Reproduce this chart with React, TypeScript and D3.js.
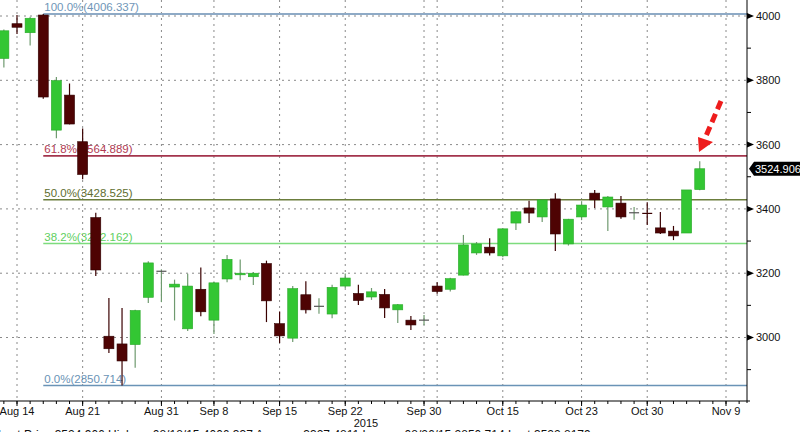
import React from 'react';
import * as d3 from 'd3';

// trading days (Shanghai composite, 2015), used as the x index
const tradingDays = [
  'Aug 13', 'Aug 14', 'Aug 17', 'Aug 18', 'Aug 19', 'Aug 20', 'Aug 21', 'Aug 24', 'Aug 25', 'Aug 26',
  'Aug 27', 'Aug 28', 'Aug 31', 'Sep 1', 'Sep 2', 'Sep 7', 'Sep 8', 'Sep 9', 'Sep 10', 'Sep 11',
  'Sep 14', 'Sep 15', 'Sep 16', 'Sep 17', 'Sep 18', 'Sep 21', 'Sep 22', 'Sep 23', 'Sep 24', 'Sep 25',
  'Sep 28', 'Sep 29', 'Sep 30', 'Oct 8', 'Oct 9', 'Oct 12', 'Oct 13', 'Oct 14', 'Oct 15', 'Oct 16',
  'Oct 19', 'Oct 20', 'Oct 21', 'Oct 22', 'Oct 23', 'Oct 26', 'Oct 27', 'Oct 28', 'Oct 29', 'Oct 30',
  'Nov 2', 'Nov 3', 'Nov 4', 'Nov 5', 'Nov 6', 'Nov 9', 'Nov 10'
];

// OHLC, one entry per candle from Aug 13 to Nov 5
const open = [
  3868, 3976, 3948, 4003, 3645, 3754, 3609, 3373, 3004, 2980,
  2978, 3125, 3203, 3157, 3027, 3150, 3054, 3182, 3195, 3189,
  3230, 3043, 2998, 3133, 3095, 3073, 3160, 3137, 3126, 3134,
  3086, 3054, 3052, 3160, 3150, 3194, 3263, 3281, 3254, 3356,
  3403, 3375, 3431, 3291, 3375, 3449, 3406, 3418, 3386, 3386,
  3341, 3331, 3325, 3460
];
const high = [
  3958, 4003, 3998, 4006.337, 3810, 3790, 3650, 3388, 3123, 3092,
  3086, 3237, 3212, 3180, 3198, 3218, 3174, 3257, 3243, 3204,
  3239, 3081, 3160, 3175, 3122, 3164, 3199, 3164, 3154, 3151,
  3104, 3067, 3070, 3172, 3186, 3319, 3297, 3309, 3338, 3393,
  3425, 3428, 3449, 3369, 3424, 3459, 3440, 3440, 3406, 3421,
  3390, 3347, 3459, 3548
];
const low = [
  3840, 3944, 3908, 3743, 3620, 3663, 3492, 3191, 2952, 2850.714,
  2906, 3107, 3110, 3053, 3020, 3066, 3011, 3172, 3178, 3163,
  3048, 2983, 2986, 3075, 3074, 3060, 3154, 3101, 3117, 3061,
  3045, 3023, 3039, 3136, 3143, 3193, 3257, 3255, 3250, 3334,
  3356, 3359, 3269, 3286, 3365, 3403, 3331, 3369, 3366, 3350,
  3322, 3303, 3325, 3458
];
const close = [
  3954, 3965, 3993, 3748, 3799, 3664, 3507, 3210, 2965, 2927,
  3084, 3232, 3206, 3166, 3160, 3080, 3170, 3243, 3200, 3200,
  3114, 3005, 3152, 3086, 3097, 3156, 3185, 3115, 3142, 3092,
  3102, 3039, 3054, 3143, 3183, 3288, 3291, 3263, 3338, 3391,
  3387, 3428, 3322, 3368, 3412, 3428, 3437, 3375, 3388, 3383,
  3325, 3316, 3459, 3524.906
];

// fibonacci retracement levels drawn from the Aug 18 high
const fibLabels = ['100.0%', '61.8%', '50.0%', '38.2%', '0.0%'];
const fibValues = [4006.337, 3564.889, 3428.525, 3292.162, 2850.714];
const fibLineColors = ['#8eaac6', '#a3344c', '#6b7d3c', '#7ddc7d', '#6a93b6'];
const fibTextColors = ['#7096b8', '#b23a52', '#5e6e30', '#5fcf5f', '#6a93b6'];
const fibStart = 'Aug 18';

const xTickLabels = ['Aug 14', 'Aug 21', 'Aug 31', 'Sep 8', 'Sep 15', 'Sep 22', 'Sep 30', 'Oct 15', 'Oct 23', 'Oct 30', 'Nov 9'];
const xGridDays = ['Aug 14', 'Aug 21', 'Aug 31', 'Sep 8', 'Sep 15', 'Sep 22', 'Sep 30', 'Oct 8', 'Oct 15', 'Oct 23', 'Oct 30', 'Nov 9'];
const yMajor = [3000, 3200, 3400, 3600, 3800, 4000];
const yMinor = [2900, 3100, 3300, 3500, 3700, 3900];
const lastPrice = 3524.906;

const width = 800;
const height = 432;
const axisX = 747;
const axisY = 401;
const font = '"Liberation Sans", Arial, sans-serif';

export default function App() {
  const x = d3.scaleLinear().domain([1, 55]).range([17, 726]);
  const y = d3.scaleLinear().domain([2850.714, 4000]).range([385.5, 16]);
  const idx = (d: string) => tradingDays.indexOf(d);

  const upFill = '#33c633';
  const downFill = '#4e0303';
  const bodyW = 10;

  const candles = open.map((o, i) => {
    const c = close[i];
    const up = c >= o;
    const cx = x(i);
    const top = y(Math.max(o, c));
    const bot = y(Math.min(o, c));
    return (
      <g key={i}>
        <line x1={cx} x2={cx} y1={y(high[i])} y2={y(low[i])} stroke={up ? '#6f9a6f' : '#3a0000'} strokeWidth={1.2} />
        {bot - top < 1.5 ? (
          <line x1={cx - 5} x2={cx + 5} y1={top} y2={top} stroke={up ? '#555' : '#3a0000'} strokeWidth={1.2} />
        ) : (
          <rect x={cx - bodyW / 2} y={top} width={bodyW} height={bot - top} fill={up ? upFill : downFill} stroke={up ? '#28a828' : '#300000'} strokeWidth={0.6} />
        )}
      </g>
    );
  });

  const dayTicks = tradingDays.map((d, i) => x(i)).filter(v => v >= 0 && v <= axisX);

  return (
    <svg width={width} height={height} style={{ position: 'absolute', left: 0, top: 0, background: '#fff' }} fontFamily={font}>
      {/* dotted grid */}
      {yMajor.map(v => (
        <line key={'gy' + v} x1={0} x2={axisX} y1={y(v)} y2={y(v)} stroke="#8a8a8a" strokeDasharray="2,4" />
      ))}
      {xGridDays.map(d => (
        <line key={'gx' + d} x1={x(idx(d))} x2={x(idx(d))} y1={0} y2={axisY} stroke="#8a8a8a" strokeDasharray="2,4" />
      ))}

      {/* fibonacci levels */}
      {fibValues.map((v, i) => (
        <g key={'fib' + i}>
          <line x1={x(idx(fibStart))} x2={axisX} y1={y(v)} y2={y(v)} stroke={fibLineColors[i]} strokeWidth={i === 0 ? 2 : 1.6} />
          <text x={x(idx(fibStart)) + 1} y={y(v) - 2.5} fontSize={11.5} fill={fibTextColors[i]}>
            {fibLabels[i]}({v.toFixed(3)})
          </text>
        </g>
      ))}

      {candles}

      {/* bottom axis */}
      <line x1={0} x2={axisX + 3} y1={axisY} y2={axisY} stroke="#000" />
      {dayTicks.map((v, i) => (
        <line key={'t' + i} x1={v} x2={v} y1={axisY} y2={axisY + 3} stroke="#000" />
      ))}
      {xTickLabels.map(d => (
        <g key={'xl' + d}>
          <line x1={x(idx(d))} x2={x(idx(d))} y1={axisY} y2={axisY + 5} stroke="#000" />
          <text x={x(idx(d))} y={415} fontSize={11} textAnchor="middle" fill="#111">{d}</text>
        </g>
      ))}
      <text x={366} y={426.5} fontSize={11} textAnchor="middle" fill="#111">2015</text>
      <text x={-2} y={439} fontSize={12} fill="#111">
        Last Price  3524.906   High on 08/18/15  4006.337   Average  3327.4811   Low on 08/26/15  2850.714   Last  3522.8179
      </text>

      {/* right axis */}
      <line x1={axisX} x2={axisX} y1={0} y2={axisY + 2} stroke="#000" />
      {yMinor.map(v => (
        <line key={'ym' + v} x1={axisX} x2={axisX + 4} y1={y(v)} y2={y(v)} stroke="#000" />
      ))}
      {yMajor.map(v => (
        <g key={'yl' + v}>
          <path d={`M${axisX},${y(v) - 3}L${axisX + 7},${y(v)}L${axisX},${y(v) + 3}Z`} fill="#000" />
          <text x={axisX + 9} y={y(v)} dy="0.36em" fontSize={11} fill="#111">{v}</text>
        </g>
      ))}
      <path d={`M${axisX + 2},${y(lastPrice)}L${axisX + 7},${y(lastPrice) - 7}L${width},${y(lastPrice) - 7}L${width},${y(lastPrice) + 7}L${axisX + 7},${y(lastPrice) + 7}Z`} fill="#000" />
      <text x={axisX + 8} y={y(lastPrice)} dy="0.36em" fontSize={11} fill="#fff">{lastPrice.toFixed(3)}</text>

      {/* red arrow annotation */}
      <line x1={721} y1={101} x2={706} y2={136} stroke="#ee1c1c" strokeWidth={5} strokeDasharray="9,5" />
      <path d="M698,137L713,142L699,152Z" fill="#ee1c1c" />
    </svg>
  );
}
